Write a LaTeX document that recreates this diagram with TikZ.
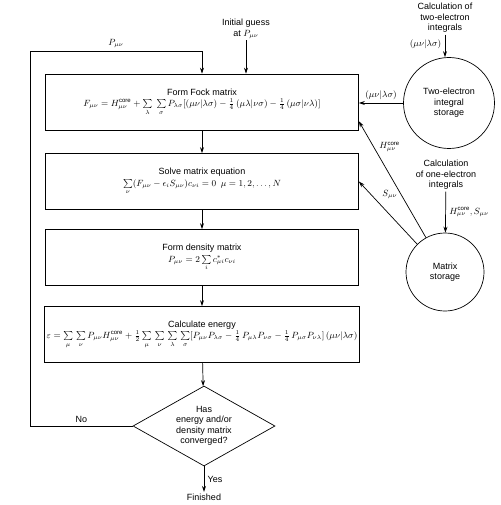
\documentclass[tikz,border=0pt]{standalone}
\usepackage{amsmath}
\usepackage{fontspec}
\setmainfont{Liberation Sans}
\usetikzlibrary{shapes.geometric,arrows.meta}

\tikzset{
  box/.style={draw, minimum width=313pt, minimum height=56pt, align=center, inner sep=2pt},
  storage/.style={draw, circle, align=center, inner sep=0pt},
  test/.style={draw, diamond, aspect=1.775, align=center, inner sep=0pt, minimum width=142pt, minimum height=80pt},
  lbl/.style={align=center, inner sep=1.5pt},
  flow/.style={-{Stealth[length=6pt,width=4pt]}},
}

\begin{document}
\begin{tikzpicture}[x=1pt, y=-1pt, line width=0.7pt, font=\fontsize{9}{10.5}\selectfont]
    \useasboundingbox (0,0) rectangle (500,505);

    % main loop
    \node[box] (fock) at (202,102) {Form Fock matrix\\[1pt]
      $F_{\mu\nu} = H_{\mu\nu}^{\text{core}} + \sum\limits_{\lambda}\;\sum\limits_{\sigma} P_{\lambda\sigma}[(\mu\nu|\lambda\sigma) - \frac{1}{4}\,(\mu\lambda|\nu\sigma) - \frac{1}{4}\,(\mu\sigma|\nu\lambda)]$};
    \node[box] (solve) at (202,181.5) {Solve matrix equation\\[1pt]
      $\sum\limits_{\nu}(F_{\mu\nu} - \epsilon_i S_{\mu\nu})c_{\nu i} = 0\enspace \mu = 1, 2, \ldots, N$};
    \node[box] (density) at (202,257.5) {Form density matrix\\[1pt]
      $P_{\mu\nu} = 2\sum\limits_{i} c_{\mu i}^{*}c_{\nu i}$};
    \node[box] (energy) at (202,334.5) {Calculate energy\\[1pt]
      $\varepsilon = \sum\limits_{\mu}\,\sum\limits_{\nu} P_{\mu\nu}H_{\mu\nu}^{\text{core}} + \frac{1}{2}\sum\limits_{\mu}\,\sum\limits_{\nu}\,\sum\limits_{\lambda}\,\sum\limits_{\sigma}[P_{\mu\nu}P_{\lambda\sigma} - \frac{1}{4}\,P_{\mu\lambda}P_{\nu\sigma} - \frac{1}{4}\,P_{\mu\sigma}P_{\nu\lambda}]\,(\mu\nu|\lambda\sigma)$};
    \node[test] (conv) at (204,426) {Has\\energy and/or\\density matrix\\converged?};
    \node[lbl] (fin) at (204,497) {Finished};
    \node[lbl] (init) at (246,29) {Initial guess\\at $P_{\mu\nu}$};
    \coordinate (loop) at (30,51);

    % integral storage
    \node[storage, minimum size=91pt] (two) at (449,103) {Two-electron\\integral\\storage};
    \node[lbl] (calctwo) at (445,18) {Calculation of\\two-electron\\integrals};
    \node[storage, minimum size=78pt] (mat) at (445,272) {Matrix\\storage};
    \node[lbl] (calcone) at (446,175) {Calculation\\of one-electron\\integrals};

    \draw[flow] (fock) -- (solve);
    \draw[flow] (solve) -- (density);
    \draw[flow] (density) -- (energy);
    \draw[flow] (energy) -- (conv);
    \draw[flow] (conv) -- node[right]{Yes} (fin);
    \draw[flow] (conv.west) -- node[above]{No} (conv.west -| loop) -- (loop)
        -- node[above]{$P_{\mu\nu}$} (loop -| fock.north) -- (fock.north);
    \draw[flow] (init) -- (init |- fock.north);

    \draw[flow] (calctwo) -- node[left, pos=0.45]{$(\mu\nu|\lambda\sigma)$} (calctwo |- two.north);
    \draw[flow] (two.west) -- node[above]{$(\mu\nu|\lambda\sigma)$} (two.west -| fock.east);
    \draw[flow] (calcone) -- node[right]{$H_{\mu\nu}^{\text{core}}, S_{\mu\nu}$} (mat);
    \draw[flow] (mat.119) -- node[pos=0.78, right=2pt]{$H_{\mu\nu}^{\text{core}}$} (fock.-7);
    \draw[flow] (mat.135) -- node[pos=0.66, above right]{$S_{\mu\nu}$} (solve.east);
\end{tikzpicture}
\end{document}
